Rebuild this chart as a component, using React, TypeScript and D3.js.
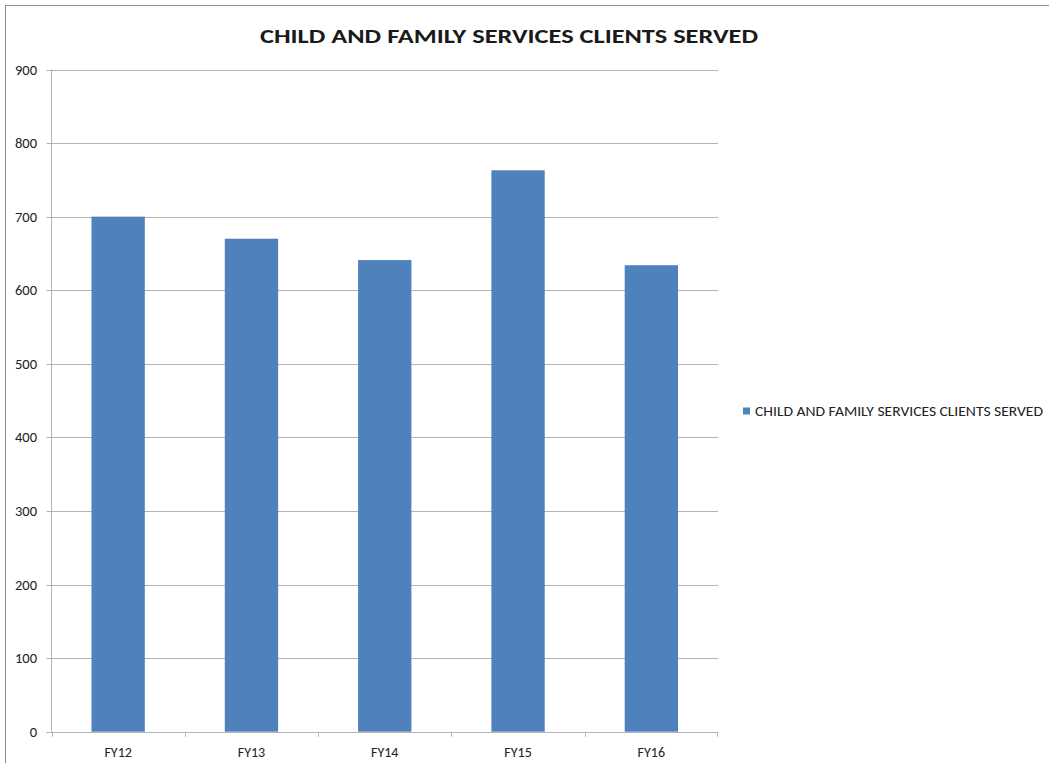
import React from "react";
import * as d3 from "d3";

const categories = ["FY12", "FY13", "FY14", "FY15", "FY16"];
const values = [700, 670, 641, 763, 634];
const yTicks = [0, 100, 200, 300, 400, 500, 600, 700, 800, 900];
const seriesName = "CHILD AND FAMILY SERVICES CLIENTS SERVED";
const title = "CHILD AND FAMILY SERVICES CLIENTS SERVED";

const W = 1049;
const H = 763;
const left = 51.5;
const right = 718;
const top = 69.5;
const bottom = 731.7;
const font = "Carlito, Lato, 'Open Sans', 'Liberation Sans', sans-serif";

export default function App() {
  const x = d3.scaleBand<string>().domain(categories).range([left, right]).paddingInner(0).paddingOuter(0);
  const y = d3.scaleLinear().domain([0, 900]).range([bottom, top]);
  const bw = x.bandwidth() * 0.4;
  const grid = "#b3b3b3";

  return (
    <svg width={W} height={H} style={{ position: "absolute", left: 0, top: 0, background: "#fff" }}>
      <rect x={5.5} y={5.5} width={1100} height={800} fill="#fff" stroke="#8c8c8c" strokeWidth={1} />
      <text x={509} y={43} textAnchor="middle" fontFamily={font} fontWeight="bold" fontSize={21}
        fill="#1a1a1a" textLength={498} lengthAdjust="spacingAndGlyphs">{title}</text>
      {yTicks.map((t) => (
        <g key={t}>
          {t > 0 && <line x1={left} x2={right} y1={Math.round(y(t)) + 0.5} y2={Math.round(y(t)) + 0.5} stroke={grid} strokeWidth={1} />}
          <line x1={46.5} x2={left} y1={Math.round(y(t)) + 0.5} y2={Math.round(y(t)) + 0.5} stroke={grid} strokeWidth={1} />
          <text x={37} y={y(t) + 5} textAnchor="end" fontFamily={font} fontSize={14.5} fill="#222">{t}</text>
        </g>
      ))}
      {categories.map((c, i) => (
        <rect key={c} x={(x(c) as number) + (x.bandwidth() - bw) / 2} y={y(values[i])}
          width={bw} height={bottom - y(values[i])} fill="#4f81bd" />
      ))}
      <line x1={left} x2={left} y1={top} y2={bottom} stroke={grid} strokeWidth={1} />
      <line x1={left - 5} x2={right} y1={Math.round(bottom) + 0.5} y2={Math.round(bottom) + 0.5} stroke={grid} strokeWidth={1} />
      {categories.map((c) => (
        <line key={"t" + c} x1={Math.round(x(c) as number) + 0.5} x2={Math.round(x(c) as number) + 0.5}
          y1={bottom} y2={bottom + 5} stroke={grid} strokeWidth={1} />
      ))}
      <line x1={right - 0.5} x2={right - 0.5} y1={bottom} y2={bottom + 5} stroke={grid} strokeWidth={1} />
      {categories.map((c) => (
        <text key={"l" + c} x={(x(c) as number) + x.bandwidth() / 2} y={757} textAnchor="middle"
          fontFamily={font} fontSize={14} fill="#222">{c}</text>
      ))}
      <rect x={743} y={407.5} width={7} height={7} fill="#4f81bd" />
      <text x={755} y={416} fontFamily={font} fontSize={14} fill="#222" textLength={288} lengthAdjust="spacingAndGlyphs">{seriesName}</text>
    </svg>
  );
}
